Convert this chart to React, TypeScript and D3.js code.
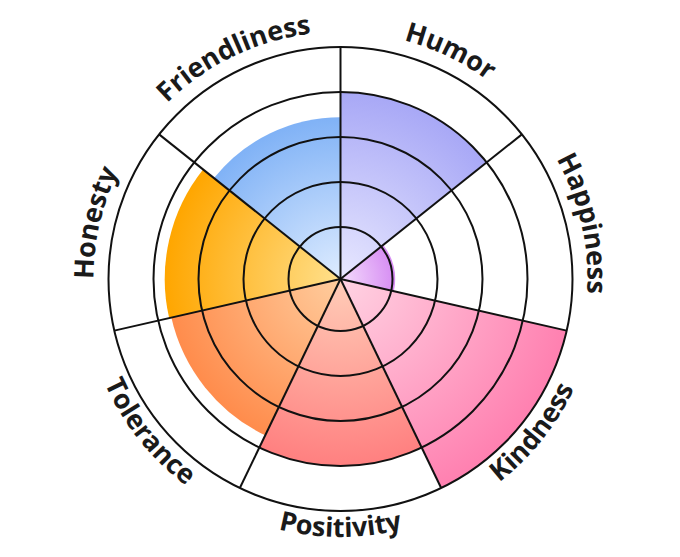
import React from 'react';
import * as d3 from 'd3';

// chart data
const labels = ['Humor', 'Happiness', 'Kindness', 'Positivity', 'Tolerance', 'Honesty', 'Friendliness'];
const values = [4, 1.06, 5, 4, 3.7, 3.75, 3.44];
const innerColors = ['#e8e8ff', '#f4dcfc', '#ffd3e3', '#ffcdb8', '#ffcd9e', '#ffe08c', '#deecff'];
const outerColors = ['#a8a8f6', '#d68cf3', '#ff80b0', '#ff8080', '#ff8c4c', '#ffa600', '#80b2f6'];
const ringTicks = [1, 2, 3, 4, 5];
const flipped = ['Kindness', 'Positivity', 'Tolerance'];

const width = 680;
const height = 557;
const cx = 340.5;
const cy = 279;
const outerR = 232;

export default function App() {
    const rScale = d3.scaleLinear().domain([0, 5]).range([7, outerR]);
    const step = (2 * Math.PI) / labels.length;

    const arcGen = d3.arc<any>()
        .innerRadius(0)
        .outerRadius(d => rScale(d.value))
        .startAngle(d => d.i * step)
        .endAngle(d => (d.i + 1) * step);

    const pt = (r: number, a: number) => [r * Math.sin(a), -r * Math.cos(a)];

    // text paths along the outer circle
    const labelPath = (i: number, name: string) => {
        const mid = (i + 0.5) * step;
        const span = (80 * Math.PI) / 180;
        if (flipped.includes(name)) {
            const r = 258;
            const [x0, y0] = pt(r, mid + span);
            const [x1, y1] = pt(r, mid - span);
            return `M${x0},${y0} A${r},${r} 0 0 0 ${x1},${y1}`;
        }
        const r = 247;
        const [x0, y0] = pt(r, mid - span);
        const [x1, y1] = pt(r, mid + span);
        return `M${x0},${y0} A${r},${r} 0 0 1 ${x1},${y1}`;
    };

    return (
        <svg width={width} height={height} style={{ position: 'absolute', left: 0, top: 0, background: '#fff' }}>
            <defs>
                {labels.map((name, i) => (
                    <radialGradient key={name} id={'grad-' + i} gradientUnits="userSpaceOnUse"
                        cx={0} cy={0} r={rScale(values[i])}>
                        <stop offset="0%" stopColor={innerColors[i]} />
                        <stop offset="100%" stopColor={outerColors[i]} />
                    </radialGradient>
                ))}
                {labels.map((name, i) => (
                    <path key={name} id={'lp-' + i} d={labelPath(i, name)} />
                ))}
            </defs>
            <g transform={`translate(${cx},${cy})`}>
                {labels.map((name, i) => (
                    <path key={name} d={arcGen({ i, value: values[i] }) as string} fill={`url(#grad-${i})`} />
                ))}
                {ringTicks.map(t => (
                    <circle key={t} r={rScale(t)} fill="none" stroke="#111" strokeWidth={2} />
                ))}
                {labels.map((name, i) => {
                    const [x, y] = pt(outerR, i * step);
                    return <line key={name} x1={0} y1={0} x2={x} y2={y} stroke="#111" strokeWidth={2} />;
                })}
                {labels.map((name, i) => (
                    <text key={name} fontFamily="'Open Sans', sans-serif" fontWeight={700} fontSize={27} fill="#1a1a1a">
                        <textPath href={'#lp-' + i} startOffset="50%" textAnchor="middle">{name}</textPath>
                    </text>
                ))}
            </g>
        </svg>
    );
}
